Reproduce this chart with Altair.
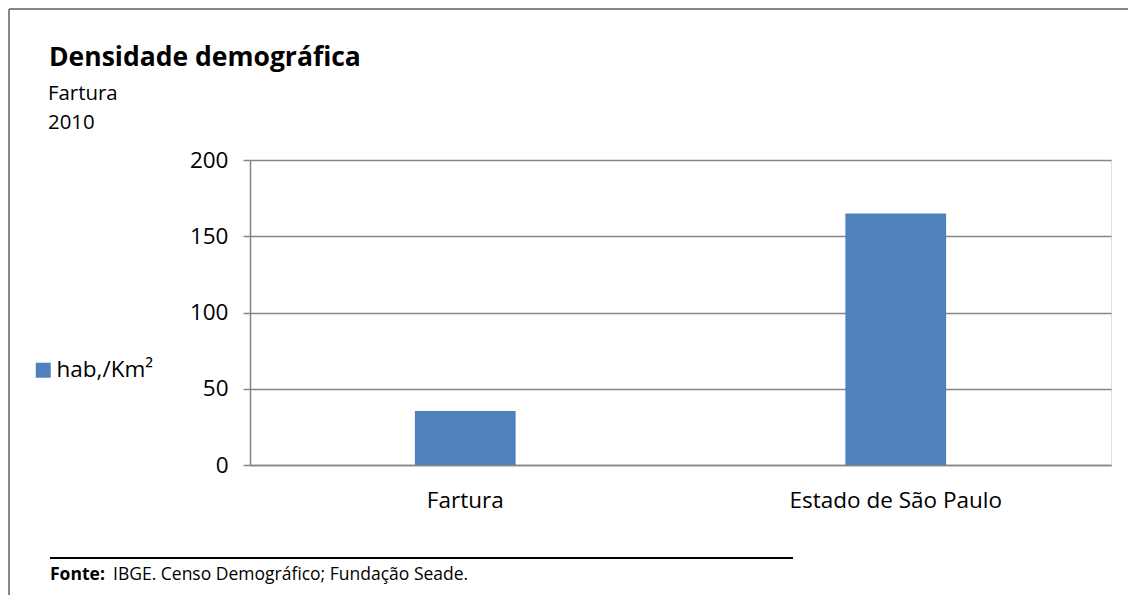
import altair as alt
import pandas as pd

# ---- data ----
categories = ["Fartura", "Estado de São Paulo"]
values = [35.4, 165.0]
series_name = "hab,/Km²"
y_ticks = [0, 50, 100, 150, 200]
title_text = "Densidade demográfica"
subtitle_lines = ["Fartura", "2010"]
source_bold = "Fonte:"
source_rest = "IBGE. Censo Demográfico;  Fundação Seade."

FONT = "Open Sans"
GRID = "#868686"
BAR = "#4F81BD"

df = pd.DataFrame({"cat": categories, "val": values, "serie": [series_name] * len(categories)})
one = pd.DataFrame({"a": [0]})

bars = alt.Chart(df).mark_bar(color=BAR).encode(
    x=alt.X("cat:N", sort=categories,
            scale=alt.Scale(paddingInner=0.766, paddingOuter=0.383),
            axis=alt.Axis(title=None, labelAngle=0, ticks=False, domainColor=GRID,
                          domainWidth=1.5, labelFontSize=22.5, labelFont=FONT,
                          labelColor="black", labelPadding=24, labelLimit=500)),
    y=alt.Y("val:Q", scale=alt.Scale(domain=[0, 200], nice=False),
            axis=alt.Axis(values=y_ticks, title=None, grid=True, gridColor=GRID,
                          gridWidth=1.5, domainColor=GRID, domainWidth=1.5,
                          tickColor=GRID, tickSize=7, tickWidth=1.5,
                          labelFontSize=22.5, labelFont=FONT, labelColor="black",
                          labelPadding=15)),
    color=alt.Color("serie:N", scale=alt.Scale(range=[BAR]),
                    legend=alt.Legend(orient="none", legendX=-218, legendY=199,
                                      title=None, symbolType="square",
                                      symbolSize=225, symbolStrokeWidth=0,
                                      labelFontSize=22.5, labelFont=FONT,
                                      labelColor="black", labelOffset=2)),
)

# frame (top and left edges)
frame_top = alt.Chart(one).mark_rule(color=GRID, strokeWidth=2).encode(
    x=alt.value(-241), x2=alt.value(880), y=alt.value(-151))
frame_left = alt.Chart(one).mark_rule(color=GRID, strokeWidth=2).encode(
    x=alt.value(-241), y=alt.value(-151), y2=alt.value(440))

title = alt.Chart(one).mark_text(
    text=title_text, font=FONT, fontSize=26.5, fontWeight="bold", align="left",
    baseline="alphabetic", color="black").encode(x=alt.value(-201), y=alt.value(-94))
sub1 = alt.Chart(one).mark_text(
    text=subtitle_lines[0], font=FONT, fontSize=20.4, align="left",
    baseline="alphabetic", color="black").encode(x=alt.value(-202), y=alt.value(-60))
sub2 = alt.Chart(one).mark_text(
    text=subtitle_lines[1], font=FONT, fontSize=20.4, align="left",
    baseline="alphabetic", color="black").encode(x=alt.value(-202), y=alt.value(-31))

foot_rule = alt.Chart(one).mark_rule(color="black", strokeWidth=2).encode(
    x=alt.value(-200), x2=alt.value(543), y=alt.value(398))
foot_bold = alt.Chart(one).mark_text(
    text=source_bold, font=FONT, fontSize=17.5, fontWeight="bold", align="left",
    baseline="alphabetic", color="black").encode(x=alt.value(-200), y=alt.value(420))
foot_rest = alt.Chart(one).mark_text(
    text=source_rest, font=FONT, fontSize=17.5, align="left",
    baseline="alphabetic", color="black").encode(x=alt.value(-137), y=alt.value(420))

chart = alt.layer(
    bars, frame_top, frame_left, title, sub1, sub2, foot_rule, foot_bold, foot_rest
).properties(
    width=861, height=305,
    autosize=alt.AutoSizeParams(type="none"),
    padding={"left": 242, "top": 152, "right": 17, "bottom": 130},
).configure_view(stroke="transparent").configure(background="white")

chart.save("out.html", embed_options={"renderer": "svg", "actions": False})
